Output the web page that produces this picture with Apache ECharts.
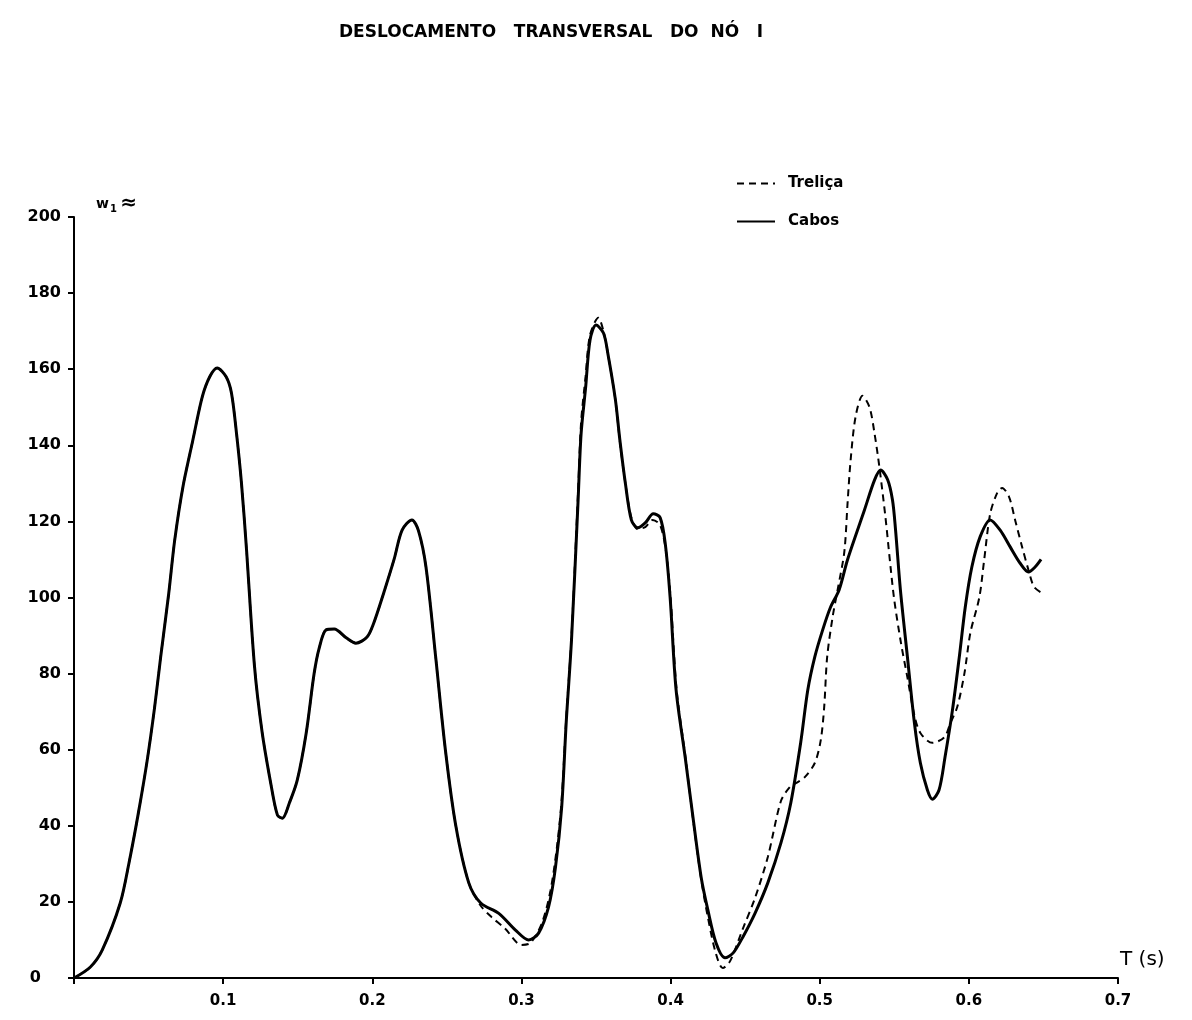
<!DOCTYPE html>
<html>
<head>
<meta charset="utf-8">
<script src="https://cdn.jsdelivr.net/npm/echarts@6/dist/echarts.min.js"></script>
<style>
html,body{margin:0;padding:0;background:#fff;}
#chart{width:1192px;height:1020px;}
</style>
</head>
<body>
<div id="chart"></div>
<script>
// ---- Data ----
const titleText = 'DESLOCAMENTO   TRANSVERSAL   DO  NÓ   I';
const seriesNames = ['Treliça', 'Cabos'];
const xTickLabels = ['0.1', '0.2', '0.3', '0.4', '0.5', '0.6', '0.7'];
const yTickLabels = ['0', '20', '40', '60', '80', '100', '120', '140', '160', '180', '200'];

const cabosT = [0, 0.011, 0.019, 0.031, 0.037, 0.043, 0.049, 0.054, 0.058, 0.0635, 0.0675, 0.073, 0.0795, 0.086, 0.091, 0.096, 0.102, 0.1056, 0.109, 0.1123, 0.1156, 0.121, 0.126, 0.132, 0.1364, 0.1397, 0.1444, 0.1497, 0.1557, 0.161, 0.1644, 0.169, 0.1745, 0.1825, 0.189, 0.1965, 0.201, 0.2075, 0.2146, 0.22, 0.2266, 0.231, 0.236, 0.2426, 0.249, 0.256, 0.2647, 0.2727, 0.2848, 0.296, 0.3048, 0.3115, 0.3182, 0.3228, 0.327, 0.330, 0.3336, 0.338, 0.340, 0.343, 0.346, 0.350, 0.355, 0.358, 0.363, 0.366, 0.3697, 0.3737, 0.378, 0.383, 0.3884, 0.393, 0.3964, 0.3997, 0.4037, 0.4098, 0.415, 0.4205, 0.425, 0.4305, 0.4365, 0.442, 0.4485, 0.4566, 0.4652, 0.474, 0.4806, 0.4873, 0.492, 0.4967, 0.502, 0.5073, 0.513, 0.5187, 0.530, 0.5368, 0.5408, 0.5455, 0.5488, 0.5508, 0.5541, 0.5588, 0.5635, 0.5675, 0.5722, 0.5755, 0.580, 0.584, 0.589, 0.5936, 0.5976, 0.602, 0.6076, 0.6143, 0.621, 0.6277, 0.6344, 0.640, 0.6444, 0.6484];
const cabosW = [0, 2.9, 7.4, 19.7, 30.5, 43, 57, 71, 84, 101, 115, 129, 141, 152.7, 158, 160.3, 158, 153.7, 143, 130, 113, 82, 65, 51, 42.8, 42, 46, 52, 64.4, 80, 86.7, 91.5, 91.7, 89.4, 88, 89.6, 93.3, 101, 110, 117.7, 120.4, 117.5, 108, 84, 60, 40, 25, 19.7, 17, 12.6, 10, 11.8, 18.7, 29, 45, 67, 89, 125.6, 143, 155, 167.7, 171.6, 169.5, 164, 152, 141.4, 130, 120.4, 118.3, 119.6, 122, 121, 114.3, 100, 75.7, 58, 42.3, 26.5, 17.9, 9.2, 5.3, 6.6, 10.8, 17, 25, 35.5, 46, 62, 75.7, 84.4, 91.5, 97.5, 102, 110, 123, 130.9, 133.5, 131, 125.6, 118, 102, 84.4, 67, 56.5, 49.4, 47, 49.4, 58, 70.4, 84.4, 97.5, 108, 116, 120.4, 117.7, 113.3, 109, 106.7, 108, 110];

const trelicaT = [0, 0.011, 0.019, 0.031, 0.037, 0.043, 0.049, 0.054, 0.058, 0.0635, 0.0675, 0.073, 0.0795, 0.086, 0.091, 0.096, 0.102, 0.1056, 0.109, 0.1123, 0.1156, 0.121, 0.126, 0.132, 0.1364, 0.1397, 0.1444, 0.1497, 0.1557, 0.161, 0.1644, 0.169, 0.1745, 0.1825, 0.189, 0.1965, 0.201, 0.2075, 0.2146, 0.22, 0.2266, 0.231, 0.236, 0.2426, 0.249, 0.256, 0.2647, 0.2727, 0.280, 0.289, 0.300, 0.306, 0.3137, 0.3195, 0.324, 0.327, 0.330, 0.3336, 0.338, 0.340, 0.343, 0.346, 0.3516, 0.355, 0.358, 0.363, 0.366, 0.3697, 0.3737, 0.378, 0.383, 0.388, 0.393, 0.397, 0.400, 0.404, 0.410, 0.415, 0.4205, 0.425, 0.430, 0.435, 0.440, 0.4485, 0.4566, 0.4652, 0.474, 0.480, 0.484, 0.490, 0.4967, 0.5007, 0.503, 0.505, 0.5087, 0.512, 0.5165, 0.5187, 0.5207, 0.524, 0.5287, 0.5334, 0.5368, 0.540, 0.5441, 0.5475, 0.550, 0.5545, 0.5588, 0.5635, 0.5675, 0.5755, 0.5836, 0.5876, 0.5922, 0.597, 0.601, 0.607, 0.6103, 0.6143, 0.619, 0.6223, 0.627, 0.631, 0.6357, 0.640, 0.6437, 0.649];
const trelicaW = [0, 2.9, 7.4, 19.7, 30.5, 43, 57, 71, 84, 101, 115, 129, 141, 152.7, 158, 160.3, 158, 153.7, 143, 130, 113, 82, 65, 51, 42.8, 42, 46, 52, 64.4, 80, 86.7, 91.5, 91.7, 89.4, 88, 89.6, 93.3, 101, 110, 117.7, 120.4, 117.5, 108, 84, 60, 40, 25, 19, 16, 13, 8.7, 9.2, 14.4, 23, 35, 47, 68, 90, 128, 146, 158, 169, 173.5, 170, 164, 152, 141, 130, 121, 118, 118.5, 120.4, 119, 112, 100, 76, 58, 42, 26, 16, 7, 2.6, 4.5, 13, 21, 31.8, 46.5, 50.2, 51.2, 52.8, 56.5, 62.5, 71.2, 84.4, 95, 102, 112, 125, 136, 147.4, 153, 150, 143, 134.3, 121, 108, 99.3, 88, 79, 69, 64.4, 61.8, 63.3, 67, 71.2, 80, 90.7, 100, 110, 122, 127.5, 128.8, 126.4, 120.4, 113.3, 107.2, 102.8, 101.2];

function pairs(ts, ws) { return ts.map((t, i) => [t, ws[i]]); }

const FONT = '"DejaVu Sans", "Liberation Sans", sans-serif';
const chart = echarts.init(document.getElementById('chart'), null, {renderer: 'canvas'});

chart.setOption({
  backgroundColor: '#ffffff',
  animation: false,
  title: {
    text: titleText,
    left: 334,
    top: 19,
    textStyle: {fontFamily: FONT, fontWeight: 'bold', fontSize: 17, color: '#000'}
  },
  legend: {
    data: seriesNames,
    orient: 'vertical',
    left: 731,
    top: 171,
    itemWidth: 38,
    itemHeight: 14,
    itemGap: 23,
    itemStyle: {opacity: 0},
    textStyle: {fontFamily: FONT, fontWeight: 'bold', fontSize: 15, color: '#000', padding: [0, 0, 0, 8]}
  },
  grid: {left: 74, right: 74, top: 217, bottom: 42, containLabel: false},
  xAxis: {
    type: 'value',
    min: 0, max: 0.7, interval: 0.1,
    axisLine: {show: true, lineStyle: {color: '#000', width: 2}},
    axisTick: {show: true, length: 6, lineStyle: {color: '#000', width: 2}},
    splitLine: {show: false},
    axisLabel: {
      margin: 16,
      fontFamily: FONT, fontWeight: 'bold', fontSize: 15, color: '#000',
      formatter: function (v) {
        const i = Math.round(v * 10) - 1;
        return i >= 0 ? xTickLabels[i] : '';
      }
    }
  },
  yAxis: {
    type: 'value',
    min: 0, max: 200, interval: 20,
    axisLine: {show: true, lineStyle: {color: '#000', width: 2}},
    axisTick: {show: true, length: 6, lineStyle: {color: '#000', width: 2}},
    splitLine: {show: false},
    axisLabel: {
      margin: 13,
      fontFamily: FONT, fontWeight: 'bold', fontSize: 16, color: '#000',
      formatter: function (v) {
        const s = yTickLabels[Math.round(v / 20)];
        return v === 0 ? '{z|' + s + '}' : s;
      },
      rich: {z: {fontFamily: FONT, fontWeight: 'bold', fontSize: 16, color: '#000', padding: [0, 20, 0, 0]}}
    }
  },
  graphic: [
    {
      type: 'text', left: 96, top: 194,
      style: {
        text: '{w|w}{s|1} {c|≈}',
        rich: {
          w: {fontFamily: FONT, fontWeight: 'bold', fontSize: 14, fill: '#000'},
          s: {fontFamily: FONT, fontWeight: 'bold', fontSize: 10, fill: '#000', verticalAlign: 'bottom', padding: [8, 0, 0, 1]},
          c: {fontFamily: FONT, fontWeight: 'bold', fontSize: 20, fill: '#000'}
        }
      }
    },
    {
      type: 'text', left: 1120, top: 950,
      style: {text: 'T (s)', fontFamily: FONT, fontSize: 20, fill: '#000'}
    }
  ],
  series: [
    {
      name: seriesNames[0],
      type: 'line',
      data: pairs(trelicaT, trelicaW),
      smooth: 0.3,
      symbol: 'none',
      lineStyle: {color: '#000', width: 2, type: [7, 5]},
      itemStyle: {color: '#000'},
      z: 2
    },
    {
      name: seriesNames[1],
      type: 'line',
      data: pairs(cabosT, cabosW),
      smooth: 0.3,
      symbol: 'none',
      lineStyle: {color: '#000', width: 3},
      itemStyle: {color: '#000'},
      z: 3
    }
  ]
});
</script>
</body>
</html>
